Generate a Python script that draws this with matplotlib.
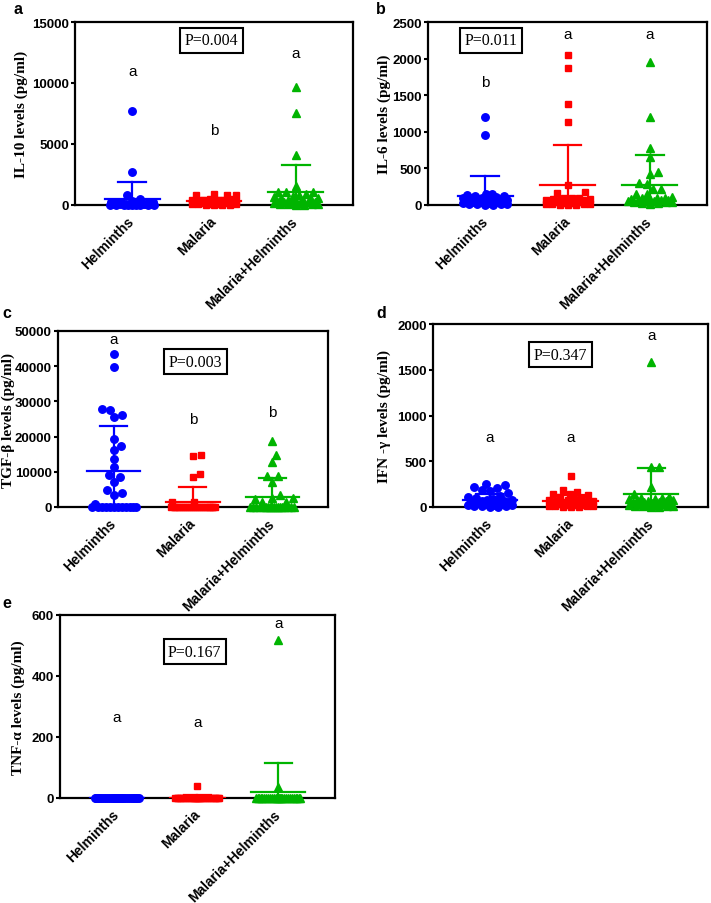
import numpy as np
import matplotlib
matplotlib.use('Agg')
import matplotlib.pyplot as plt

plt.rcParams['font.family'] = ['Liberation Sans', 'DejaVu Sans']

groups = ['Helminths', 'Malaria', 'Malaria+Helminths']
colors = ['#0000FF', '#FF0000', '#00B400']
markers = ['o', 's', '^']
msizes = [5.4, 5.0, 5.8]

# IL-10 (pg/ml)
il10_helm = [7730, 2740, 820, 520, 300, 260, 230, 200, 180, 160, 140, 120, 110, 100, 90,
             80, 70, 60, 55, 50, 45, 40, 35, 30, 25, 20, 15, 10, 5, 0]
il10_mal = [880, 860, 830, 800, 520, 480, 450, 420, 400, 380, 350, 330, 300, 280, 260,
            240, 220, 200, 180, 160, 140, 120, 100, 80, 60, 50, 40, 30, 20, 10]
il10_mh = [9650, 7540, 4060, 1560, 1100, 1100, 1100, 900, 800, 700, 650, 600, 550, 500, 450,
           400, 350, 300, 280, 250, 220, 200, 180, 150, 120, 100, 80, 60, 40, 20]
il10_mean = [475, 330, 1070]
il10_sd = [1450, 260, 2220]
il10_letters = ['a', 'b', 'a']
il10_letter_y = [11000, 6150, 12500]

# IL-6 (pg/ml)
il6_helm = [1200, 960, 156, 156, 130, 125, 120, 110, 100, 95, 90, 85, 80, 75, 70,
            65, 60, 55, 50, 45, 40, 35, 30, 25, 20, 15, 10, 8, 5, 0]
il6_mal = [2050, 1870, 1380, 1130, 274, 178, 170, 100, 95, 90, 85, 80, 75, 70, 65,
           60, 55, 50, 45, 40, 35, 30, 25, 20, 15, 10, 8, 5, 3, 0]
il6_mh = [1960, 1206, 777, 658, 452, 430, 307, 293, 215, 215, 147, 147, 110, 100, 95,
          90, 85, 80, 75, 70, 65, 60, 55, 50, 45, 40, 35, 30, 25, 20]
il6_mean = [123, 274, 274]
il6_sd = [270, 548, 411]
il6_letters = ['b', 'a', 'a']
il6_letter_y = [1680, 2330, 2330]

# TGF-beta (pg/ml)
tgf_helm = [43370, 39870, 27700, 27660, 26200, 25670, 19420, 17330, 16200, 13550, 11270,
            9000, 8530, 7100, 4740, 3980, 3410, 850] + [0] * 12
tgf_mal = [14770, 14400, 9480, 8530, 1530, 1530] + [0] * 24
tgf_mh = [18750, 14770, 12780, 8800, 8800, 7100, 3320, 2670, 2670, 2190, 1420, 1420] + [0] * 18
tgf_mean = [10100, 1450, 2840]
tgf_sd = [12800, 4350, 5510]
tgf_letters = ['a', 'b', 'b']
tgf_letter_y = [47600, 25100, 27000]

# IFN-gamma (pg/ml)
ifn_helm = [247, 240, 218, 210, 181, 175, 150, 120, 110, 100, 90, 80, 75, 70, 65,
            60, 55, 50, 45, 40, 35, 30, 25, 20, 18, 15, 12, 10, 5, 0]
ifn_mal = [334, 181, 164, 145, 140, 130, 110, 100, 90, 80, 75, 70, 65, 60, 55,
           50, 45, 40, 35, 30, 25, 20, 18, 15, 12, 10, 8, 5, 3, 0]
ifn_mh = [1582, 436, 436, 218, 145, 110, 100, 95, 90, 85, 80, 75, 70, 65, 60,
          55, 50, 45, 40, 35, 30, 25, 20, 18, 15, 12, 10, 8, 5, 0]
ifn_mean = [75, 65, 138]
ifn_sd = [70, 70, 287]
ifn_letters = ['a', 'a', 'a']
ifn_letter_y = [770, 770, 1880]

# TNF-alpha (pg/ml)
tnf_helm = [0] * 30
tnf_mal = [38] + [0] * 29
tnf_mh = [518, 35] + [0] * 28
tnf_mean = [0, 1.3, 18.5]
tnf_sd = [0, 7, 95]
tnf_letters = ['a', 'a', 'a']
tnf_letter_y = [264, 250, 573]

W, H = 711, 904
fig = plt.figure(figsize=(W / 100, H / 100), dpi=100)


def swarm(vals, px_per_unit, d=8.0, maxw=22.0):
    # simple beeswarm in pixel space, lowest values placed first at the centre
    cands = [0.0]
    for s in np.arange(0.5, maxw + 0.01, 0.5):
        cands += [s, -s]
    placed = []
    out = []
    for v in sorted(vals):
        y = v * px_per_unit
        best = None
        for c in cands:
            if all((c - px) ** 2 + (y - py) ** 2 >= d * d for px, py in placed):
                best = c
                break
        if best is None:
            best = max(cands, key=lambda c: min((c - px) ** 2 + (y - py) ** 2 for px, py in placed))
        placed.append((best, y))
        out.append((best, v))
    return out


panels = [
    dict(box=(75, 23, 353, 206), data=[il10_helm, il10_mal, il10_mh], mean=il10_mean, sd=il10_sd,
         ymax=15000, yticks=[0, 5000, 10000, 15000], ylabel='IL-10 levels (pg/ml)', p='P=0.004',
         ppos=(0.49, 0.90), letters=il10_letters, ly=il10_letter_y, tag='a', tagpos=(14, 2), labx=-0.194),
    dict(box=(428, 23, 707, 206), data=[il6_helm, il6_mal, il6_mh], mean=il6_mean, sd=il6_sd,
         ymax=2500, yticks=[0, 500, 1000, 1500, 2000, 2500], ylabel='IL-6 levels (pg/ml)', p='P=0.011',
         ppos=(0.227, 0.90), letters=il6_letters, ly=il6_letter_y, tag='b', tagpos=(376, 2), labx=-0.156),
    dict(box=(58, 332, 328, 508), data=[tgf_helm, tgf_mal, tgf_mh], mean=tgf_mean, sd=tgf_sd,
         ymax=50000, yticks=[0, 10000, 20000, 30000, 40000, 50000], ylabel='TGF-β levels (pg/ml)',
         p='P=0.003', ppos=(0.51, 0.825), letters=tgf_letters, ly=tgf_letter_y, tag='c',
         tagpos=(2, 306), labx=-0.183),
    dict(box=(433, 325, 708, 508), data=[ifn_helm, ifn_mal, ifn_mh], mean=ifn_mean, sd=ifn_sd,
         ymax=2000, yticks=[0, 500, 1000, 1500, 2000], ylabel='IFN -γ levels (pg/ml)', p='P=0.347',
         ppos=(0.464, 0.833), letters=ifn_letters, ly=ifn_letter_y, tag='d', tagpos=(376, 306), labx=-0.179),
    dict(box=(60, 616, 335, 799), data=[tnf_helm, tnf_mal, tnf_mh], mean=tnf_mean, sd=tnf_sd,
         ymax=600, yticks=[0, 200, 400, 600], ylabel='TNF-α levels (pg/ml)', p='P=0.167',
         ppos=(0.49, 0.80), letters=tnf_letters, ly=tnf_letter_y, tag='e', tagpos=(2, 596), labx=-0.150),
]

x0, x1 = -0.7, 2.7
for pn in panels:
    l, t, r, b = pn['box']
    ax = fig.add_axes([l / W, 1 - b / H, (r - l) / W, (b - t) / H])
    wpx, hpx = r - l, b - t
    px_x = wpx / (x1 - x0)
    px_y = hpx / pn['ymax']
    for i, vals in enumerate(pn['data']):
        pts = swarm(vals, px_y)
        xs = [i + off / px_x for off, v in pts]
        ys = [v for off, v in pts]
        ax.plot(xs, ys, linestyle='none', marker=markers[i], ms=msizes[i], color=colors[i],
                mec=colors[i], clip_on=False, zorder=3)
        m, s = pn['mean'][i], pn['sd'][i]
        ax.plot([i - 0.335, i + 0.335], [m, m], color=colors[i], lw=1.6, zorder=4)
        if s > 0:
            ax.plot([i, i], [m - s, m + s], color=colors[i], lw=1.6, zorder=4)
            ax.plot([i - 0.17, i + 0.17], [m + s, m + s], color=colors[i], lw=1.6, zorder=4)
            ax.plot([i - 0.17, i + 0.17], [m - s, m - s], color=colors[i], lw=1.6, zorder=4)
        ax.text(i, pn['ly'][i], pn['letters'][i], ha='center', va='center', fontsize=11)
    ax.set_xlim(x0, x1)
    ax.set_ylim(0, pn['ymax'])
    ax.set_xticks([0, 1, 2])
    ax.set_xticklabels(groups, rotation=45, ha='right', va='center', rotation_mode='anchor',
                       fontsize=10, fontweight='bold')
    ax.set_yticks(pn['yticks'])
    ax.set_yticklabels([str(v) for v in pn['yticks']], fontsize=9.5, fontweight='bold')
    ax.tick_params(axis='y', direction='out', length=3, width=1.5, pad=1.5)
    ax.tick_params(axis='x', direction='out', length=3, width=1.5, pad=7)
    for sp in ax.spines.values():
        sp.set_linewidth(1.6)
    ax.set_ylabel(pn['ylabel'], fontsize=11, fontweight='bold', va='center',
                  family=['Liberation Serif', 'DejaVu Serif'])
    ax.yaxis.set_label_coords(pn['labx'], 0.5)
    ax.text(pn['ppos'][0], pn['ppos'][1], pn['p'], transform=ax.transAxes, ha='center', va='center',
            fontsize=11.5, family=['Liberation Serif', 'DejaVu Serif'],
            bbox=dict(boxstyle='square,pad=0.28', fc='white', ec='black', lw=1.5))
    fig.text(pn['tagpos'][0] / W, 1 - pn['tagpos'][1] / H, pn['tag'], ha='left', va='top',
             fontsize=11.5, fontweight='bold')

fig.savefig('out.png', dpi=100)
